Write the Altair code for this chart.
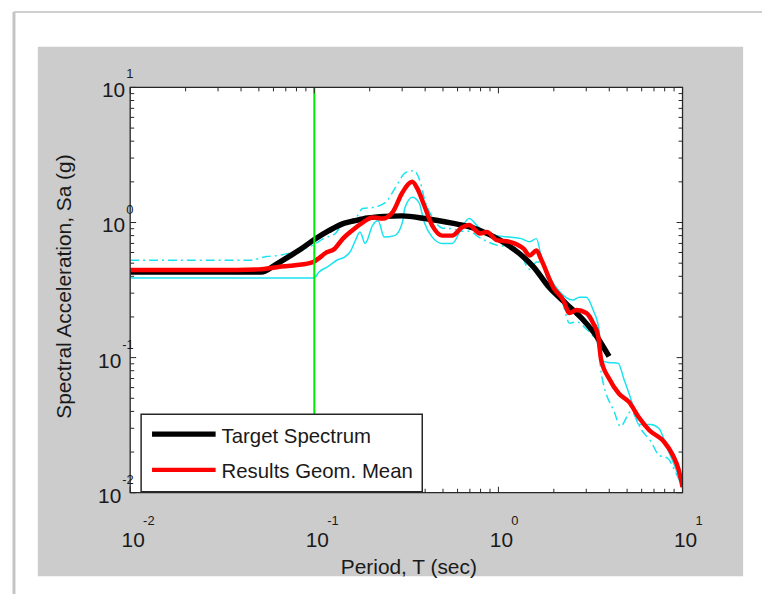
import altair as alt
import pandas as pd

# ---------------- data ----------------
target_T = [0.01, 0.02, 0.03, 0.04, 0.0515, 0.062, 0.072, 0.085, 0.0996, 0.12, 0.146,
            0.165, 0.195, 0.24, 0.30, 0.40, 0.56, 0.675, 0.784, 1.02, 1.30, 1.55, 1.89,
            2.34, 2.89, 3.40, 3.99]
target_Sa = [0.43, 0.43, 0.43, 0.43, 0.43, 0.49, 0.555, 0.64, 0.745, 0.87, 0.99,
             1.03, 1.08, 1.11, 1.12, 1.07, 0.99, 0.94, 0.88, 0.74, 0.59, 0.47, 0.33,
             0.25, 0.19, 0.145, 0.102]

geo_T = [0.01, 0.03, 0.05, 0.0637, 0.0787, 0.0984, 0.107, 0.114, 0.129, 0.143, 0.16,
         0.183, 0.207, 0.235, 0.266, 0.301, 0.34, 0.363, 0.396, 0.437, 0.495, 0.561,
         0.634, 0.692, 0.794, 0.865, 0.98, 1.15, 1.37, 1.48, 1.61, 1.71, 1.99, 2.25,
         2.43, 2.65, 3.0, 3.27, 3.48, 3.61, 3.99, 4.52, 5.12, 5.8, 6.6, 7.9, 8.85,
         9.53, 10.0]
geo_Sa = [0.445, 0.445, 0.45, 0.469, 0.483, 0.51, 0.55, 0.59, 0.64, 0.76, 0.87,
          1.0, 1.09, 1.07, 1.19, 1.67, 2.0, 1.78, 1.33, 0.95, 0.80, 0.80,
          0.92, 0.96, 0.83, 0.85, 0.74, 0.72, 0.64, 0.57, 0.62, 0.53, 0.33, 0.267,
          0.214, 0.225, 0.214, 0.18, 0.145, 0.097, 0.07, 0.054, 0.047, 0.036, 0.029,
          0.024, 0.019, 0.0148, 0.011]

comp1_T = [0.01, 0.0996, 0.106, 0.118, 0.134, 0.146, 0.158, 0.166, 0.177, 0.189, 0.207,
           0.222, 0.240, 0.273, 0.301, 0.311, 0.341, 0.370, 0.396, 0.437, 0.495, 0.561,
           0.634, 0.692, 0.794, 0.98, 1.15, 1.33, 1.48, 1.61, 1.71, 1.89, 2.14, 2.54,
           2.75, 3.0, 3.27, 3.52, 3.61, 3.96, 4.47, 4.81, 5.25, 5.8, 6.73, 7.43, 8.3,
           9.2, 10.0]
comp1_Sa = [0.388, 0.388, 0.43, 0.47, 0.53, 0.555, 0.62, 0.72, 0.85, 0.70, 0.95,
            1.03, 0.78, 0.80, 1.0, 1.29, 1.54, 1.41, 1.0, 0.78, 0.70, 0.70,
            0.92, 1.07, 0.90, 0.80, 0.78, 0.76, 0.72, 0.76, 0.555, 0.40, 0.31, 0.267,
            0.28, 0.28, 0.225, 0.16, 0.095, 0.092, 0.091, 0.069, 0.049, 0.032, 0.032,
            0.030, 0.021, 0.015, 0.011]

comp2_T = [0.01, 0.045, 0.055, 0.0637, 0.0787, 0.0984, 0.114, 0.129, 0.143, 0.166,
           0.183, 0.207, 0.244, 0.276, 0.313, 0.346, 0.377, 0.396, 0.437, 0.495, 0.561,
           0.634, 0.692, 0.794, 0.98, 1.15, 1.33, 1.48, 1.61, 1.71, 1.89, 2.14, 2.25,
           2.43, 2.65, 3.0, 3.27, 3.48, 3.61, 3.75, 4.25, 4.6, 5.25, 6.0, 6.73, 7.43,
           8.3, 9.2, 10.0]
comp2_Sa = [0.526, 0.526, 0.56, 0.57, 0.61, 0.68, 0.77, 0.82, 0.98, 1.05,
            1.27, 1.29, 1.41, 1.82, 2.34, 2.42, 1.98, 1.50, 1.10, 0.91, 0.90,
            0.86, 0.86, 0.77, 0.68, 0.66, 0.57, 0.45, 0.51, 0.51, 0.34, 0.29, 0.245,
            0.18, 0.184, 0.163, 0.144, 0.124, 0.078, 0.061, 0.040, 0.031, 0.040, 0.029,
            0.024, 0.019, 0.018, 0.014, 0.011]

marker_T = [0.1]
decades = [0.01, 0.1, 1, 10]
decade_exp = [-2, -1, 0, 1]
minor_mult = [2, 3, 4, 5, 6, 7, 8, 9]
legend_labels = ["Target Spectrum", "Results Geom. Mean"]

# ---------------- layout / style ----------------
W, H = 556, 408
FONT = "Liberation Sans"
TXT = "#1a1a1a"
AX = "#262626"
CYAN = "#19e3f0"
minor_ticks = [round(d * m, 6) for d in decades[:-1] for m in minor_mult]

xscale = alt.Scale(type="log", domain=[0.01, 10], nice=False)
yscale = alt.Scale(type="log", domain=[0.01, 10], nice=False)

x_axis = alt.Axis(values=decades, labels=False, ticks=False, tickSize=0, domain=False,
                  grid=False, title="Period, T (sec)", titleFont=FONT, titleFontSize=21,
                  titleFontWeight="normal", titleColor=TXT, titleX=W / 2 + 2, titleY=75,
                  titleBaseline="middle", titleAlign="center", zindex=1)
y_axis = alt.Axis(values=decades, labels=False, ticks=False, tickSize=0, domain=False,
                  grid=False, title="Spectral Acceleration, Sa (g)", titleFont=FONT,
                  titleFontSize=21, titleFontWeight="normal", titleColor=TXT,
                  titleAngle=270, titleX=-66, titleY=H / 2 - 4, titleBaseline="middle",
                  titleAlign="center", zindex=1)


def X(field):
    return alt.X(f"{field}:Q", scale=xscale, axis=x_axis)


def Y(field):
    return alt.Y(f"{field}:Q", scale=yscale, axis=y_axis)


one = pd.DataFrame({"k": [0]})

card_top = alt.Chart(one).mark_rule(color="#cfcfcf", strokeWidth=2).encode(
    x=alt.value(-117), x2=alt.value(640), y=alt.value(-76))
card_left = alt.Chart(one).mark_rule(color="#c4c4c4", strokeWidth=3).encode(
    x=alt.value(-117), y=alt.value(-76), y2=alt.value(520))
panel = alt.Chart(one).mark_rect(fill="#cccccc").encode(
    x=alt.value(-93), x2=alt.value(617), y=alt.value(-41), y2=alt.value(492))
plotbg = alt.Chart(one).mark_rect(fill="white").encode(
    x=alt.value(0), x2=alt.value(W), y=alt.value(0), y2=alt.value(H))


def series(T, Sa):
    return pd.DataFrame({"T": T, "Sa": Sa})


comp2 = alt.Chart(series(comp2_T, comp2_Sa)).mark_line(
    color=CYAN, strokeWidth=1.5, strokeDash=[9, 4, 2, 4], clip=True,
    interpolate="monotone").encode(x=X("T"), y=Y("Sa"))
comp1 = alt.Chart(series(comp1_T, comp1_Sa)).mark_line(
    color=CYAN, strokeWidth=1.5, clip=True, interpolate="monotone").encode(x=X("T"), y=Y("Sa"))
target = alt.Chart(series(target_T, target_Sa)).mark_line(
    color="black", strokeWidth=5.5, clip=True, interpolate="monotone").encode(x=X("T"), y=Y("Sa"))
geo = alt.Chart(series(geo_T, geo_Sa)).mark_line(
    color="#ff0000", strokeWidth=4.5, clip=True, interpolate="monotone").encode(x=X("T"), y=Y("Sa"))

marker = alt.Chart(pd.DataFrame({"T": marker_T})).mark_rule(
    color="#00ee00", strokeWidth=2).encode(x=X("T"))

# inward ticks on all four sides
tick_layers = []
for vals, L in [(decades, 6), (minor_ticks, 4)]:
    df = pd.DataFrame({"v": vals})
    tick_layers.append(alt.Chart(df).mark_rule(color=AX, strokeWidth=1).encode(
        x=X("v"), y=alt.value(H), y2=alt.value(H - L)))
    tick_layers.append(alt.Chart(df).mark_rule(color=AX, strokeWidth=1).encode(
        x=X("v"), y=alt.value(0), y2=alt.value(L)))
    tick_layers.append(alt.Chart(df).mark_rule(color=AX, strokeWidth=1).encode(
        y=Y("v"), x=alt.value(0), x2=alt.value(L)))
    tick_layers.append(alt.Chart(df).mark_rule(color=AX, strokeWidth=1).encode(
        y=Y("v"), x=alt.value(W), x2=alt.value(W - L)))

frame = alt.Chart(one).mark_rect(fillOpacity=0, stroke=AX, strokeWidth=1.3).encode(
    x=alt.value(0), x2=alt.value(W), y=alt.value(0), y2=alt.value(H))

# legend
leg_box = alt.Chart(one).mark_rect(fill="white", stroke=AX, strokeWidth=1.5).encode(
    x=alt.value(11), x2=alt.value(294), y=alt.value(329), y2=alt.value(407))
leg_black = alt.Chart(one).mark_rule(color="black", strokeWidth=5.5).encode(
    x=alt.value(22), x2=alt.value(86), y=alt.value(349))
leg_red = alt.Chart(one).mark_rule(color="#ff0000", strokeWidth=4.5).encode(
    x=alt.value(22), x2=alt.value(86), y=alt.value(385))
leg_t1 = alt.Chart(pd.DataFrame({"label": [legend_labels[0]]})).mark_text(
    align="left", baseline="middle", font=FONT, fontSize=20.5, color=TXT).encode(
    x=alt.value(92), y=alt.value(352), text="label:N")
leg_t2 = alt.Chart(pd.DataFrame({"label": [legend_labels[1]]})).mark_text(
    align="left", baseline="middle", font=FONT, fontSize=20.5, color=TXT).encode(
    x=alt.value(92), y=alt.value(387), text="label:N")

# tick labels written as 10 with a raised exponent
lab_df = pd.DataFrame({"v": decades, "k": decade_exp, "base": ["10"] * len(decades)})
lab_df["e"] = lab_df["k"].astype(str)
x_base = alt.Chart(lab_df).mark_text(align="center", baseline="middle", dx=3, font=FONT,
                                     fontSize=21, color=TXT).encode(
    x=X("v"), y=alt.value(H + 49), text="base:N")
x_exp = alt.Chart(lab_df).mark_text(align="left", baseline="middle", dx=13, font=FONT,
                                    fontSize=13, color=TXT).encode(
    x=X("v"), y=alt.value(H + 28), text="e:N")
y_base_neg = alt.Chart(lab_df).transform_filter("datum.k < 0").mark_text(
    align="right", baseline="middle", dy=4, font=FONT, fontSize=21, color=TXT).encode(
    y=Y("v"), x=alt.value(-9), text="base:N")
y_base_pos = alt.Chart(lab_df).transform_filter("datum.k >= 0").mark_text(
    align="right", baseline="middle", dy=4, font=FONT, fontSize=21, color=TXT).encode(
    y=Y("v"), x=alt.value(-5), text="base:N")
y_exp_neg = alt.Chart(lab_df).transform_filter("datum.k < 0").mark_text(
    align="left", baseline="middle", dy=-13, font=FONT, fontSize=13, color=TXT).encode(
    y=Y("v"), x=alt.value(-8), text="e:N")
y_exp_pos = alt.Chart(lab_df).transform_filter("datum.k >= 0").mark_text(
    align="left", baseline="middle", dy=-13, font=FONT, fontSize=13, color=TXT).encode(
    y=Y("v"), x=alt.value(-4), text="e:N")

chart = alt.layer(
    card_top, card_left, panel, plotbg, comp2, comp1, target, geo, marker, *tick_layers,
    frame, leg_box, leg_black, leg_red, leg_t1, leg_t2,
    x_base, x_exp, y_base_neg, y_base_pos, y_exp_neg, y_exp_pos
).properties(
    width=W, height=H,
    padding={"left": 123, "top": 78, "right": 80, "bottom": 100},
    autosize=alt.AutoSizeParams(type="none"),
).configure_view(strokeWidth=0).configure(background="white")

chart.save("out.html", embed_options={"renderer": "svg", "actions": False})
